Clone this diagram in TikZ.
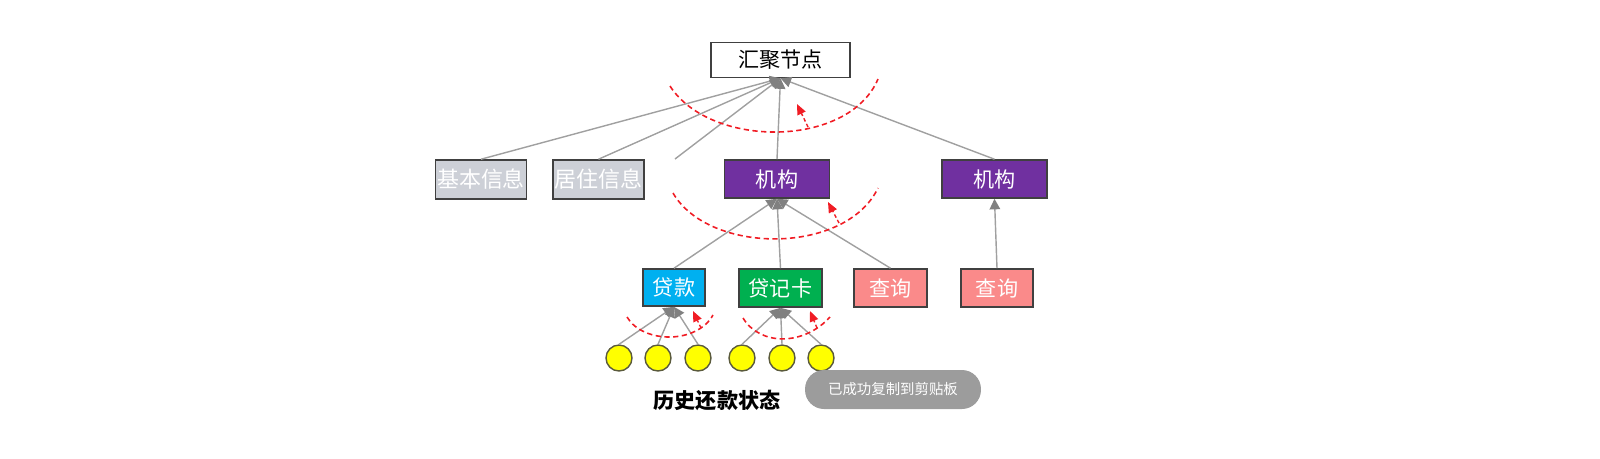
\documentclass[tikz,border=0pt]{standalone}
\usepackage{fontspec}
\setmainfont{Noto Sans CJK SC}
\usepackage{tikz}
\usepackage{xcolor}
\usetikzlibrary{arrows.meta}

\begin{document}
\begin{tikzpicture}[x=0.02cm,y=-0.02cm,
  mybox/.style={draw=boxline,line width=0.9pt,inner sep=0,text=white,font=\fontsize{12}{12}\selectfont},
  mylink/.style={draw=linkgray,line width=0.8pt,-{Triangle[width=6pt,length=6pt,color=tipgray]}},
  myarc/.style={draw=arcred,line width=0.9pt,dash pattern=on 3pt off 2pt},
  myturn/.style={draw=arcred,line width=0.8pt,dash pattern=on 2pt off 1.5pt,-{Triangle[width=5pt,length=6pt]}},
  mydot/.style={circle,draw=dotline,fill=dotyellow,line width=0.8pt,minimum size=0.52cm,inner sep=0}]
\definecolor{boxline}{HTML}{404040}
\definecolor{linkgray}{HTML}{A0A0A0}
\definecolor{tipgray}{HTML}{808080}
\definecolor{arcred}{HTML}{F01C24}
\definecolor{infogray}{HTML}{CDD0D7}
\definecolor{orgpurple}{HTML}{7030A0}
\definecolor{loanblue}{HTML}{00B0F0}
\definecolor{cardgreen}{HTML}{00B050}
\definecolor{querypink}{HTML}{FA8A8A}
\definecolor{dotyellow}{HTML}{FFFF00}
\definecolor{dotline}{HTML}{5A5A3C}
\definecolor{toastgray}{HTML}{9C9C9C}
\useasboundingbox (0,0) rectangle (1600,458);
\node[mybox,fill=white,text=black,minimum width=2.78cm,minimum height=0.7cm] (hub) at (780.5,60) {汇聚节点};
\foreach \nm/\txt/\xx in {basic/基本信息/481,home/居住信息/598.5}
  {\node[mybox,fill=infogray,font=\fontsize{12.5}{12.5}\selectfont,minimum width=1.82cm,minimum height=0.78cm] (\nm) at (\xx,179.5) {\txt};}
\foreach \nm/\xx in {org1/777,org2/994.5}
  {\node[mybox,fill=orgpurple,minimum width=2.1cm,minimum height=0.76cm] (\nm) at (\xx,179) {机构};}
\node[mybox,fill=loanblue,minimum width=1.24cm,minimum height=0.74cm] (loan) at (674,287.5) {贷款};
\node[mybox,fill=cardgreen,minimum width=1.66cm,minimum height=0.76cm] (card) at (780.5,288) {贷记卡};
\foreach \nm/\xx in {query1/890.5,query2/997}
  {\node[mybox,fill=querypink,minimum width=1.45cm,minimum height=0.76cm] (\nm) at (\xx,288) {查询};}
\foreach \i/\xx in {1/619,2/658,3/698,4/742,5/782,6/821}
  {\node[mydot] (d\i) at (\xx,358) {};}
\coordinate (stray) at (675,159);
\foreach \src in {basic,home,org1,org2}
  {\draw[mylink] (\src.north) -- (hub.south);}
\draw[mylink] (stray) -- (hub.south);
\foreach \src in {loan,card,query1}
  {\draw[mylink] (\src.north) -- (org1.south);}
\draw[mylink] (query2.north) -- (org2.south);
\foreach \i in {1,2,3}
  {\draw[mylink] (d\i.north) -- (loan.south);}
\foreach \i in {4,5,6}
  {\draw[mylink] (d\i.north) -- (card.south);}
\draw[myarc] (670,86) .. controls (710,148.5) and (848.7,148.5) .. (878,79);
\draw[myarc] (673,193) .. controls (709,255) and (846,255) .. (878,188);
\draw[myarc] (627,317) .. controls (643,344) and (697,344) .. (713,315);
\draw[myarc] (743,318) .. controls (760,346) and (803.7,346) .. (830,317);
\foreach \i/\ax/\ay/\bx/\by in {1/808/127/797/104,2/839/223/828/202,3/701/328/693/311,4/817/328/810/311}
  {\coordinate (ra\i) at (\ax,\ay);
   \coordinate (rb\i) at (\bx,\by);
   \draw[myturn] (ra\i) -- (rb\i);}
\node[font=\fontsize{12}{12}\selectfont\bfseries] (status) at (717,400) {历史还款状态};
\node[fill=toastgray,text=white,rounded corners=0.38cm,minimum width=3.52cm,minimum height=0.78cm,font=\fontsize{8.2}{8.2}\selectfont] (toast) at (893,389.5) {已成功复制到剪贴板};
\end{tikzpicture}
\end{document}
